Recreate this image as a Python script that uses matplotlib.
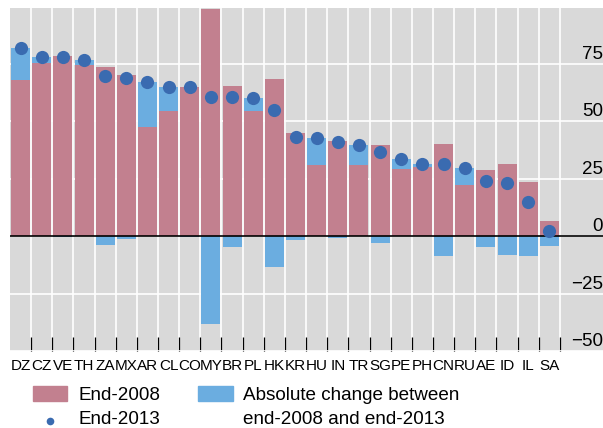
import numpy as np
import matplotlib.pyplot as plt
import matplotlib.transforms as mtransforms
from matplotlib.patches import Rectangle
from matplotlib.lines import Line2D

plt.rcParams['font.family'] = ['Liberation Sans', 'DejaVu Sans']

# datos
paises = ["DZ", "CZ", "VE", "TH", "ZA", "MX", "AR", "CL", "CO", "MY", "BR", "PL", "HK",
          "KR", "HU", "IN", "TR", "SG", "PE", "PH", "CN", "RU", "AE", "ID", "IL", "SA"]
fin2008 = [68.0, 75.4, 78.5, 74.6, 73.7, 70.2, 47.6, 54.6, 65.0, 99.0, 65.4, 54.6, 68.5,
           45.0, 31.1, 41.5, 31.1, 39.8, 29.3, 29.9, 40.2, 22.4, 28.9, 31.5, 23.7, 6.7]
fin2013 = [81.9, 78.1, 78.0, 76.7, 69.7, 68.9, 67.1, 64.9, 64.7, 60.6, 60.6, 60.2, 54.9,
           43.3, 42.5, 40.8, 39.5, 36.7, 33.7, 31.5, 31.4, 29.6, 24.2, 23.2, 14.9, 2.3]
yticks = [75, 50, 25, 0, -25, -50]

# colores
rosa = "#c2808f"
azul = "#6badE0"
punto = "#3a6bb0"
gris = "#d9d9d9"

x = np.arange(len(paises))
a2008 = np.array(fin2008)
a2013 = np.array(fin2013)
cambio = a2013 - a2008                       # cambio absoluto
base = np.where(cambio > 0, a2008, 0)        # positivo se apila, negativo desde cero

fig = plt.figure(figsize=(6.03, 4.28), dpi=100)
ax = fig.add_axes([10/603, 1 - 351/428, 593/603, 343/428])
ax.set_facecolor(gris)

ax.bar(x, a2008, width=0.9, color=rosa, zorder=2)
ax.bar(x, cambio, bottom=base, width=0.9, color=azul, zorder=2)
ax.plot(x, a2013, "o", color=punto, markersize=9.5, markeredgewidth=0, zorder=5)
ax.axhline(0, color="black", lw=1.2, zorder=4)

ax.set_xlim(-0.5, -0.5 + 593/21.15)
ax.set_ylim(-49.8, 99.3)

# ticks en los limites de las barras, etiquetas al centro
ax.set_xticks(np.arange(len(paises)) + 0.5)
ax.set_xticklabels([])
ax.set_xticks(x, minor=True)
ax.set_xticklabels(paises, minor=True, fontsize=11)
ax.tick_params(axis="x", which="major", direction="in", length=10, width=0.9, color="black")
ax.tick_params(axis="x", which="minor", length=0, pad=5.5)

ax.set_yticks(yticks)
ax.set_yticklabels([])
ax.tick_params(axis="y", length=0)
ax.grid(True, which="major", color="white", lw=1.2, zorder=1)
ax.set_axisbelow(True)
for s in ax.spines.values():
    s.set_visible(False)

# etiquetas del eje y dentro del area gris
trans = mtransforms.blended_transform_factory(ax.transAxes, ax.transData)
for v in yticks:
    ax.text(1.0, v + 2.2, str(v).replace("-", "\u2212"), transform=trans,
            ha="right", va="baseline", fontsize=13.5)

# leyenda manual
fs = 13.6
fig.add_artist(Rectangle((32.7/603, 1 - 401/428), 34/603, 15/428,
                         transform=fig.transFigure, color=rosa))
fig.text(78/603, 1 - 399.5/428, "End-2008", fontsize=fs, va="baseline")
fig.add_artist(Line2D([50/603], [1 - 420.5/428], marker="o", color=punto,
                      markersize=5.5, markeredgewidth=0, transform=fig.transFigure))
fig.text(78/603, 1 - 423.8/428, "End-2013", fontsize=fs, va="baseline")
fig.add_artist(Rectangle((198.3/603, 1 - 401/428), 35/603, 15/428,
                         transform=fig.transFigure, color=azul))
fig.text(243.3/603, 1 - 399.5/428, "Absolute change between", fontsize=fs, va="baseline")
fig.text(243.3/603, 1 - 423.8/428, "end-2008 and end-2013", fontsize=fs, va="baseline")

fig.savefig("out.png", dpi=100)
